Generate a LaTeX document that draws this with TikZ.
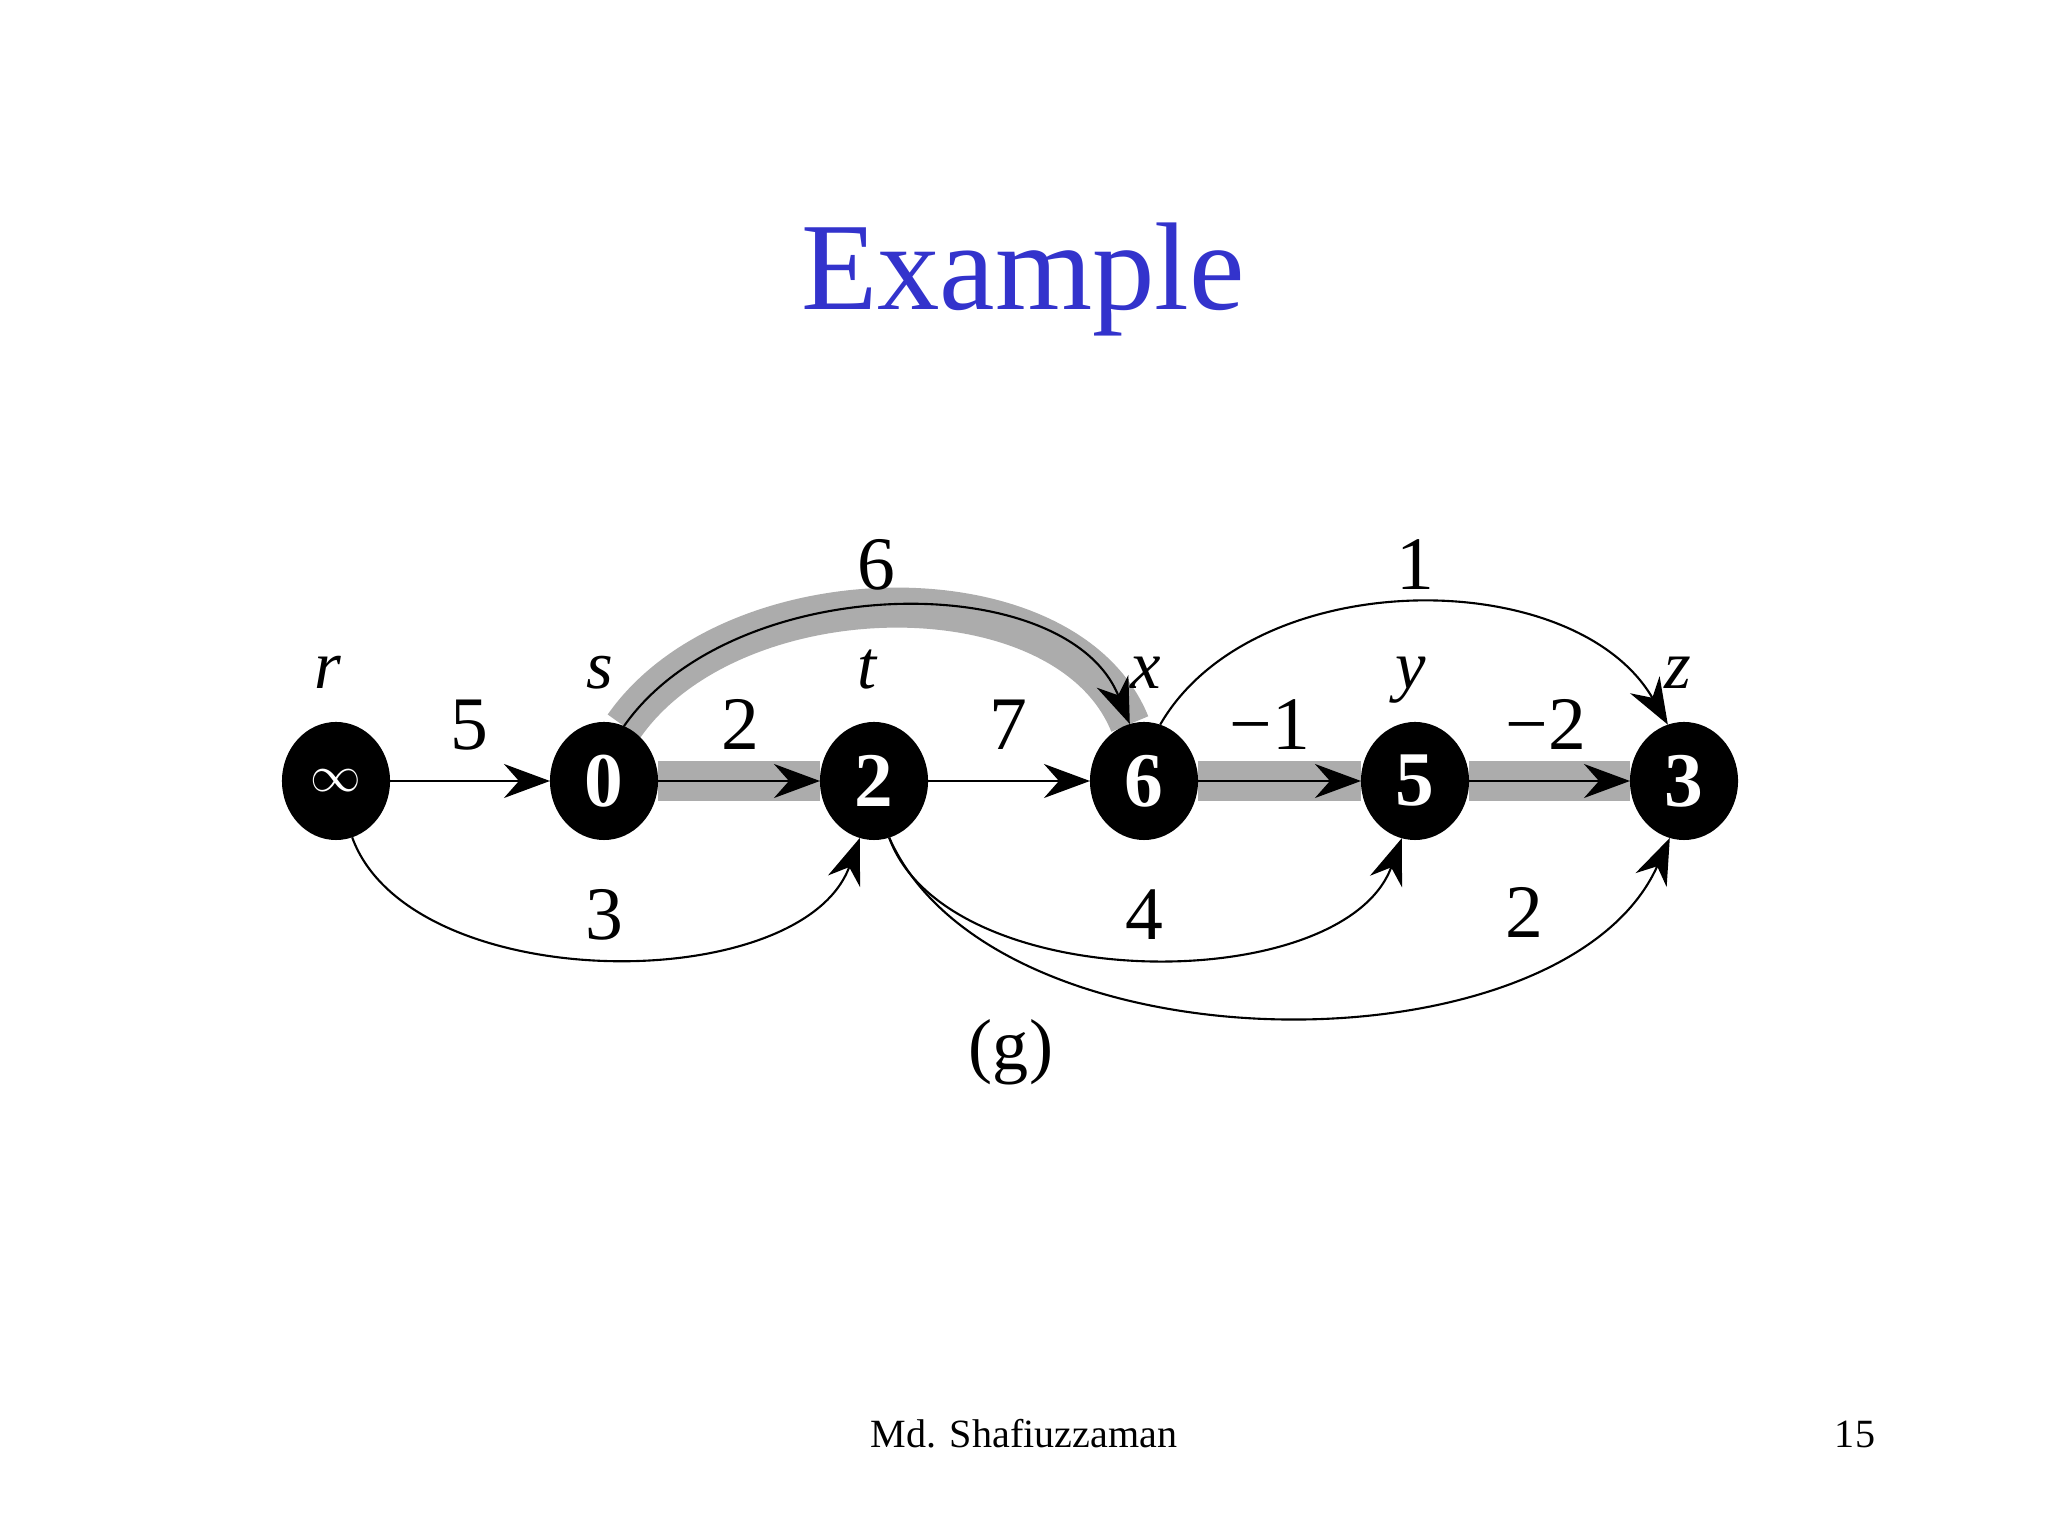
\documentclass[tikz,border=0pt]{standalone}
\usepackage{fontspec}
\setmainfont{Liberation Serif}
\usetikzlibrary{arrows.meta,shapes.geometric,backgrounds}
\definecolor{titleblue}{RGB}{51,51,204}
\definecolor{bandgray}{RGB}{172,172,172}
\begin{document}
\begin{tikzpicture}[x=0.01cm,y=0.01cm,
  vtx/.style={ellipse,fill=black,minimum width=1.08cm,minimum height=1.18cm,inner sep=0pt,outer sep=0pt,text=white,font=\fontsize{22}{22}\selectfont\bfseries},
  vlab/.style={anchor=base,font=\fontsize{19.5}{20}\selectfont\itshape},
  wlab/.style={anchor=base,font=\fontsize{21.5}{22}\selectfont},
  edge/.style={line width=0.6pt,-{Stealth[length=0.46cm,width=0.34cm,inset=0.15cm]}},
  band/.style={line width=0.40cm,draw=bandgray,line cap=butt},
]
\useasboundingbox (0,0) rectangle (2048,1536);

% title and footer
\node[anchor=base,font=\fontsize{35.5}{36}\selectfont,text=titleblue] (title) at (1023,1226) {Example};
\node[anchor=base,font=\fontsize{11.4}{12}\selectfont] (auth) at (1024,88) {Md. Shafiuzzaman};
\node[anchor=base,font=\fontsize{11.4}{12}\selectfont] (page) at (1855,88) {15};

% vertices
\node[vtx] (r) at (336,755) {{\mdseries\fontsize{13.5}{14}\selectfont$\infty$}};
\node[vtx] (s) at (604,755) {0};
\node[vtx] (t) at (874,755) {2};
\node[vtx] (x) at (1144,755) {6};
\node[vtx] (y) at (1415,755) {5};
\node[vtx] (z) at (1684,755) {3};

% vertex names
\node[vlab] (lr) at (328,847) {r};
\node[vlab] (ls) at (600,847) {s};
\node[vlab] (lt) at (867,847) {t};
\node[vlab] (lx) at (1146,847) {x};
\node[vlab] (ly) at (1411,847) {y};
\node[vlab] (lz) at (1678,847) {z};

% white page and shaded shortest-path edges
\begin{scope}[on background layer]
\fill[white] (0,0) rectangle (2048,1536);
\draw[band] (s) -- (t);
\draw[band] (x) -- (y);
\draw[band] (y) -- (z);
\draw[band] (s.70) .. controls +(55:190) and +(112:170) .. (x.104);
\end{scope}

% edges
\draw[edge] (r) -- (s);
\draw[edge] (s) -- (t);
\draw[edge] (t) -- (x);
\draw[edge] (x) -- (y);
\draw[edge] (y) -- (z);
\draw[edge] (s.70) .. controls +(55:190) and +(112:170) .. (x.104);
\draw[edge] (x.74) .. controls +(60:186) and +(120:186) .. (z.106);
\draw[edge] (r.-74) .. controls +(-70:170) and +(-110:170) .. (t.-104);
\draw[edge] (t.-75) .. controls +(-70:170) and +(-110:170) .. (y.-103);
\draw[edge] (t.-75) .. controls +(-66:260) and +(-114:260) .. (z.-104);

% weights
\node[wlab] (w5) at (469,786) {5};
\node[wlab] (w2) at (740,786) {2};
\node[wlab] (w7) at (1008,786) {7};
\node[wlab] (wm1) at (1270,786) {−1};
\node[wlab] (wm2) at (1546,786) {−2};
\node[wlab] (w6) at (876,946) {6};
\node[wlab] (w1) at (1415,946) {1};
\node[wlab] (w3) at (604,596) {3};
\node[wlab] (w4) at (1144,596) {4};
\node[wlab] (w2b) at (1524,598) {2};

% caption
\node[anchor=base,font=\fontsize{20.5}{21}\selectfont] (cap) at (1011,466) {(g)};
\end{tikzpicture}
\end{document}
